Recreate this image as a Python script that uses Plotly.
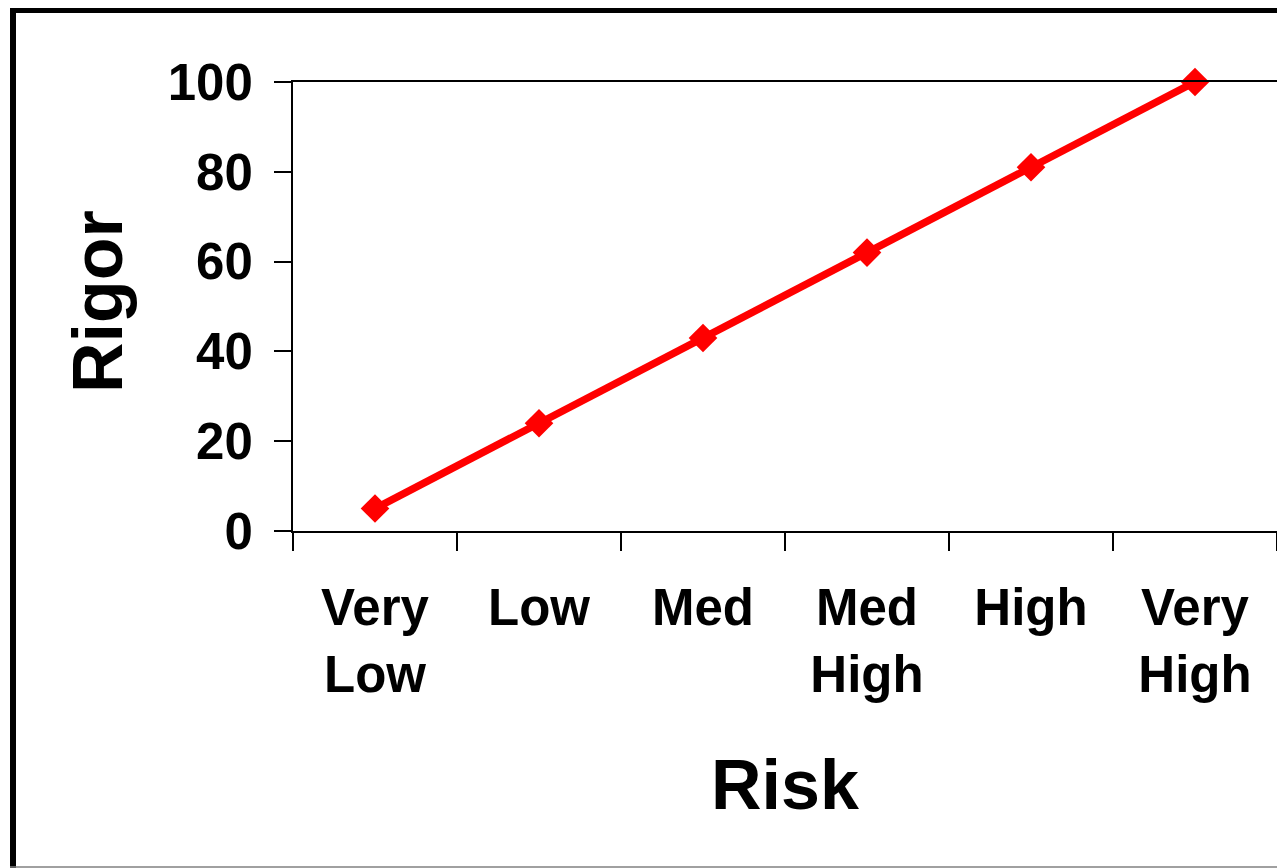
import plotly.graph_objects as go

categories = ["Very<br>Low", "Low", "Med", "Med<br>High", "High", "Very<br>High"]
rigor = [5, 24, 43, 62, 81, 100]
y_ticks = [0, 20, 40, 60, 80, 100]

# The page body has an 8px margin, so the figure is offset by (8, 8)
OFF = 8
W, H = 1285 - OFF, 868 - OFF
L, R, T, B = 293 - OFF, 1277 - OFF, 82 - OFF, 531 - OFF
pw, ph = R - L, B - T

def px_x(x):
    return (x - OFF - L) / pw

def px_y(y):
    return (B - (y - OFF)) / ph

font_family = "Liberation Sans, Arial, sans-serif"

fig = go.Figure()
fig.add_trace(go.Scatter(
    x=categories, y=rigor, mode="lines+markers",
    line=dict(color="#ff0000", width=7.5),
    marker=dict(symbol="diamond", size=22, color="#ff0000"),
    cliponaxis=False, showlegend=False,
))

fig.update_layout(
    width=W, height=H,
    margin=dict(l=L, r=W - R, t=T, b=H - B, autoexpand=False),
    paper_bgcolor="white", plot_bgcolor="white",
    font=dict(family=font_family, color="black"),
    xaxis=dict(
        type="category", tickson="boundaries",
        range=[-0.5, len(categories) - 0.5],
        showline=True, linecolor="black", linewidth=2, mirror=True,
        ticks="outside", ticklen=18, tickwidth=2, tickcolor="black",
        showgrid=False, zeroline=False,
        tickfont=dict(size=51, family=font_family, weight="bold", color="black"),
        ticklabelstandoff=31,
    ),
    yaxis=dict(
        range=[0, 100], tickvals=y_ticks,
        showline=True, linecolor="black", linewidth=2, mirror=True,
        ticks="outside", ticklen=17, tickwidth=2, tickcolor="black",
        showgrid=False, zeroline=False,
        tickfont=dict(size=51, family=font_family, weight="bold", color="black"),
        ticklabelstandoff=11,
    ),
    annotations=[
        dict(text="Risk", x=px_x(785), y=px_y(785), xref="paper", yref="paper",
             showarrow=False, xanchor="center", yanchor="middle",
             font=dict(size=70, family=font_family, weight="bold", color="black")),
        dict(text="Rigor", x=px_x(98), y=px_y(302), xref="paper", yref="paper",
             showarrow=False, xanchor="center", yanchor="middle", textangle=-90,
             font=dict(size=70, family=font_family, weight="bold", color="black")),
    ],
    shapes=[
        dict(type="line", xref="paper", yref="paper",
             x0=px_x(13), x1=px_x(13), y0=px_y(8), y1=px_y(868),
             line=dict(color="black", width=6)),
        dict(type="line", xref="paper", yref="paper",
             x0=px_x(10), x1=px_x(1285), y0=px_y(10.5), y1=px_y(10.5),
             line=dict(color="black", width=5)),
        dict(type="line", xref="paper", yref="paper",
             x0=px_x(10), x1=px_x(1285), y0=px_y(867), y1=px_y(867),
             line=dict(color="#808080", width=1.5)),
    ],
)

fig.write_html("out.html")
